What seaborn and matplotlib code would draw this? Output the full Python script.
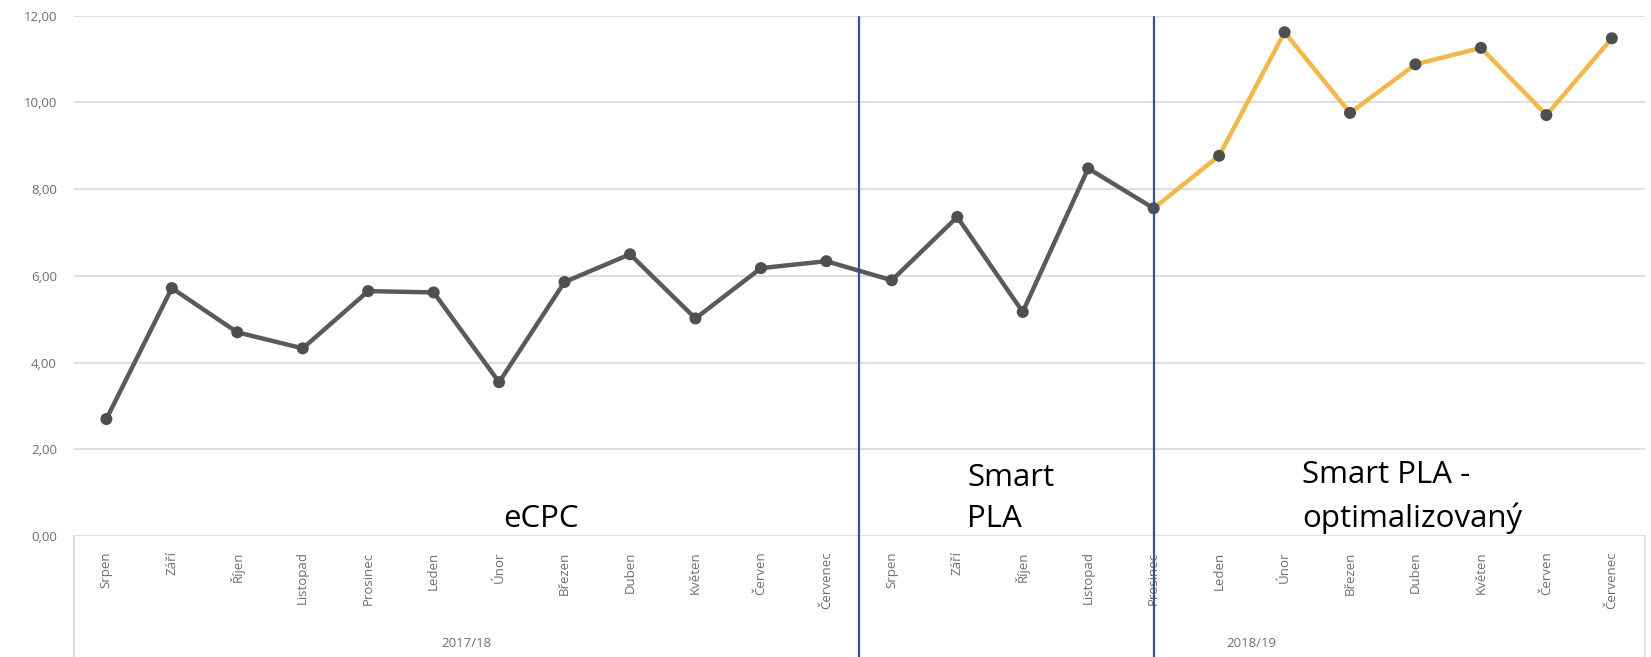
import matplotlib
matplotlib.use("Agg")
import matplotlib.pyplot as plt
import matplotlib.transforms as mtransforms
import seaborn as sns
import pandas as pd

months = ["Srpen", "Září", "Říjen", "Listopad", "Prosinec", "Leden", "Únor", "Březen",
          "Duben", "Květen", "Červen", "Červenec",
          "Srpen", "Září", "Říjen", "Listopad", "Prosinec", "Leden", "Únor", "Březen",
          "Duben", "Květen", "Červen", "Červenec"]
values = [2.70, 5.72, 4.70, 4.33, 5.65, 5.62, 3.55, 5.86, 6.50, 5.02, 6.18, 6.34,
          5.90, 7.36, 5.17, 8.48, 7.56, 8.77, 11.62, 9.76, 10.88, 11.26, 9.71, 11.48]
years = ["2017/18", "2018/19"]
phase_labels = ["eCPC", "Smart\nPLA", "Smart PLA -\noptimalizovaný"]
optimized_start = 16   # index of the month where the optimised phase begins
smart_start = 12       # index where Smart PLA begins

sns.set_theme(style="white")
plt.rcParams['font.family'] = ['Open Sans', 'DejaVu Sans']

df = pd.DataFrame({"i": range(len(values)), "v": values})
gray_df = df.iloc[:optimized_start + 1]
gold_df = df.iloc[optimized_start:]

fig = plt.figure(figsize=(16.51, 6.57), dpi=100)
ax = fig.add_axes([0.0446, 0.184, 0.9515, 0.792])

ax.set_ylim(0, 12)
ax.set_xlim(-0.5, len(values) - 0.5)
ax.set_yticks([0, 2, 4, 6, 8, 10, 12])
ax.yaxis.grid(True, color="#D9D9D9", linewidth=1.2)
ax.set_axisbelow(True)
for s in ax.spines.values():
    s.set_visible(False)

sns.lineplot(data=gray_df, x="i", y="v", ax=ax, color="#5A5A5A", linewidth=3.2, zorder=3)
sns.lineplot(data=gold_df, x="i", y="v", ax=ax, color="#F2B84B", linewidth=3.2, zorder=3)
sns.scatterplot(data=df, x="i", y="v", ax=ax, color="#4F4F4F", s=75, edgecolor="none", zorder=4)

ax.set_xlabel("")
ax.set_ylabel("")
ax.set_yticklabels([f"{t:.2f}".replace(".", ",") for t in [0, 2, 4, 6, 8, 10, 12]],
                   color="#6E6E6E", fontsize=9.5)
ax.tick_params(axis="y", length=0, pad=12)
ax.set_xticks(range(len(months)))
ax.set_xticklabels(months, rotation=90, color="#6E6E6E", fontsize=9.5, va="top")
ax.tick_params(axis="x", length=0, pad=11)

trans = mtransforms.blended_transform_factory(ax.transData, ax.transAxes)
bottom = -0.184 / 0.792
# label-area box lines
for xpos in [-0.5, len(values) - 0.5]:
    ax.plot([xpos, xpos], [0, bottom], transform=trans, color="#D9D9D9", lw=1.2, clip_on=False)
ax.plot([smart_start - 0.5, smart_start - 0.5], [0, bottom], transform=trans,
        color="#D9D9D9", lw=1.2, clip_on=False)

# phase separators
for xpos in [smart_start - 0.5, optimized_start]:
    ax.plot([xpos, xpos], [0.997, bottom], transform=trans, color="#2F5597", lw=1.6,
            clip_on=False, zorder=5)

# year group labels
ax.text((0 + smart_start - 1) / 2, -0.207, years[0], transform=trans, ha="center",
        va="center", color="#6E6E6E", fontsize=9.5)
ax.text((smart_start + len(values) - 1) / 2, -0.207, years[1], transform=trans, ha="center",
        va="center", color="#6E6E6E", fontsize=9.5)

# phase labels
ax.text(6.64, 0.004, phase_labels[0], transform=trans, ha="center", va="bottom",
        fontsize=22.5, color="black")
ax.text(13.15, 0.004, phase_labels[1], transform=trans, ha="left", va="bottom",
        fontsize=22.5, color="black", linespacing=1.5)
ax.text(18.27, 0.004, phase_labels[2], transform=trans, ha="left", va="bottom",
        fontsize=22.5, color="black", linespacing=1.5)

fig.savefig("out.png", dpi=100)
